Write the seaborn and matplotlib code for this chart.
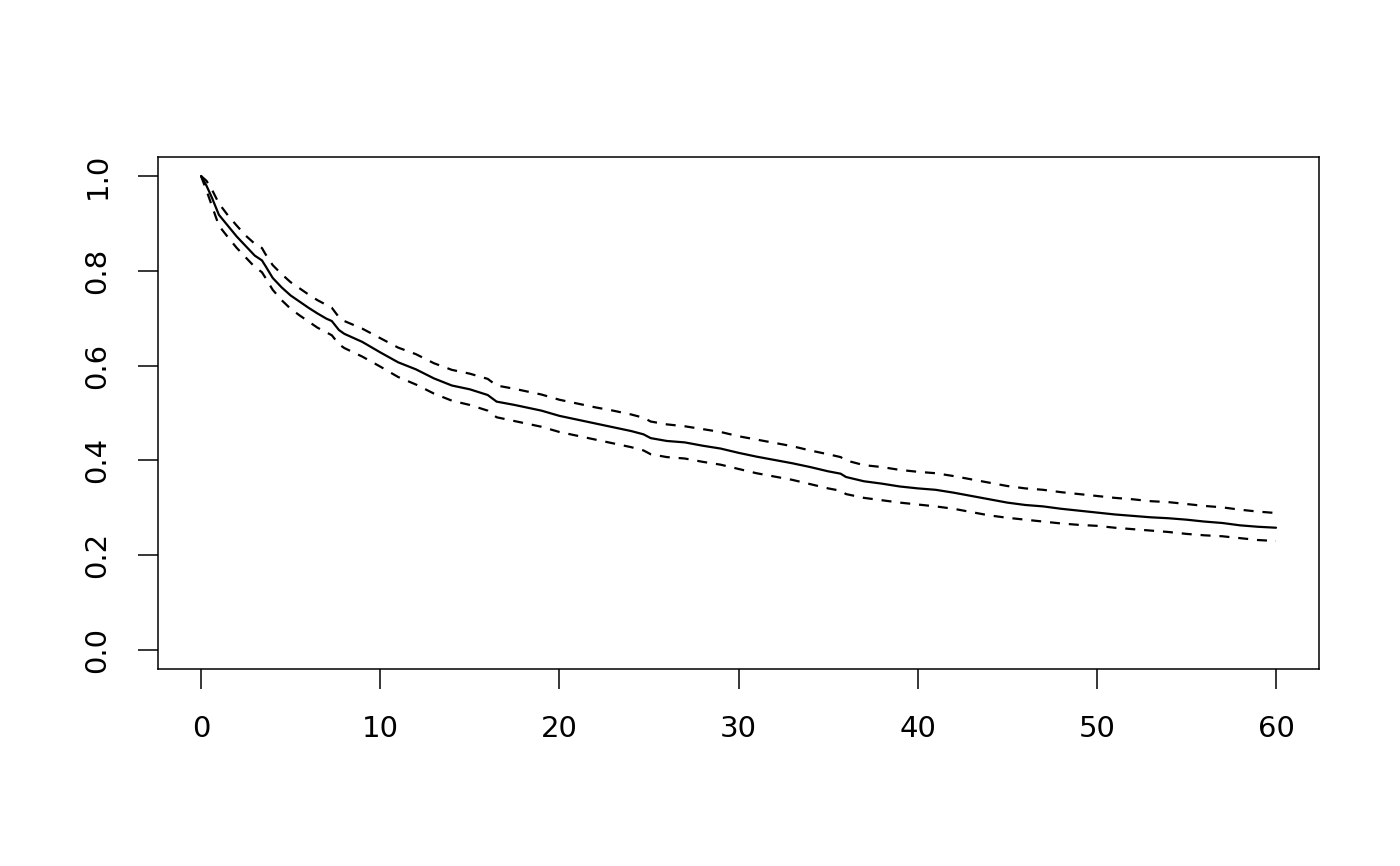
import matplotlib
matplotlib.use("Agg")
import matplotlib.pyplot as plt
import seaborn as sns
import pandas as pd

# Survival time (months) at readout points
time = [0, 0.3, 0.6, 1.0, 1.5, 2.0, 2.5, 3.0, 3.4, 3.6, 4.0, 4.5, 5.0, 5.5, 6.0, 6.5,
        7.0, 7.3, 7.7, 8.0, 9.0, 10.0, 11.0, 12.0, 13.0, 14.0, 15.0, 16.0, 16.5, 17.5,
        19.0, 20.0, 21.0, 22.0, 23.0, 24.0, 24.7, 25.1, 26.0, 27.0, 28.0, 29.0, 30.0,
        31.0, 32.0, 33.0, 34.0, 35.0, 35.7, 36.0, 37.0, 38.0, 39.0, 40.0, 41.0, 42.0,
        43.0, 44.0, 45.0, 46.0, 47.0, 48.0, 49.0, 50.0, 51.0, 52.0, 53.0, 54.0,
        55.0, 56.0, 57.0, 58.0, 59.0, 60.0]

surv = [1.0, 0.98, 0.955, 0.918, 0.895, 0.872, 0.852, 0.832, 0.822, 0.81, 0.785, 0.765,
        0.748, 0.735, 0.722, 0.71, 0.699, 0.694, 0.675, 0.667, 0.65, 0.628, 0.607,
        0.592, 0.573, 0.558, 0.55, 0.538, 0.524, 0.517, 0.505, 0.494, 0.486,
        0.478, 0.47, 0.462, 0.455, 0.447, 0.441, 0.438, 0.431, 0.425, 0.416, 0.408, 0.401,
        0.394, 0.386, 0.377, 0.372, 0.365, 0.356, 0.351, 0.345, 0.341, 0.338, 0.332,
        0.325, 0.318, 0.311, 0.306, 0.303, 0.298, 0.294, 0.29, 0.286, 0.283,
        0.28, 0.278, 0.275, 0.271, 0.268, 0.263, 0.26, 0.258]

upper = [1.0, 0.99, 0.972, 0.942, 0.917, 0.895, 0.874, 0.857, 0.848, 0.835, 0.812, 0.793,
         0.776, 0.763, 0.75, 0.738, 0.728, 0.722, 0.702, 0.694, 0.678, 0.658, 0.638,
         0.624, 0.605, 0.591, 0.583, 0.572, 0.558, 0.551, 0.539, 0.528, 0.52,
         0.512, 0.505, 0.497, 0.49, 0.482, 0.476, 0.472, 0.466, 0.46, 0.451, 0.444,
         0.437, 0.43, 0.421, 0.413, 0.407, 0.4, 0.39, 0.386, 0.38, 0.376, 0.373, 0.367,
         0.36, 0.353, 0.346, 0.341, 0.338, 0.333, 0.329, 0.325, 0.321, 0.318,
         0.314, 0.312, 0.308, 0.304, 0.301, 0.296, 0.292, 0.289]

lower = [1.0, 0.97, 0.938, 0.895, 0.871, 0.848, 0.828, 0.808, 0.797, 0.785, 0.76, 0.738,
         0.72, 0.706, 0.693, 0.68, 0.67, 0.664, 0.645, 0.637, 0.619, 0.598, 0.576,
         0.56, 0.541, 0.526, 0.517, 0.505, 0.491, 0.483, 0.471, 0.46, 0.452,
         0.444, 0.436, 0.428, 0.421, 0.413, 0.407, 0.404, 0.397, 0.391, 0.382, 0.373,
         0.366, 0.359, 0.35, 0.341, 0.336, 0.329, 0.321, 0.316, 0.311, 0.307, 0.303,
         0.298, 0.291, 0.284, 0.279, 0.275, 0.271, 0.267, 0.264, 0.262, 0.258,
         0.255, 0.252, 0.249, 0.245, 0.242, 0.24, 0.236, 0.232, 0.23]

x_ticks = [0, 10, 20, 30, 40, 50, 60]
y_ticks = [0.0, 0.2, 0.4, 0.6, 0.8, 1.0]
x_ticklabels = ["0", "10", "20", "30", "40", "50", "60"]
y_ticklabels = ["0.0", "0.2", "0.4", "0.6", "0.8", "1.0"]

sns.set_theme(style="white")
plt.rcParams["font.family"] = ["DejaVu Sans"]

df = pd.DataFrame({"time": time, "surv": surv, "upper": upper, "lower": lower})

fig = plt.figure(figsize=(14, 8.66), dpi=100)
ax = fig.add_axes([158 / 1400, 1 - 669 / 866, (1319 - 158) / 1400, (669 - 157) / 866])

sns.lineplot(data=df, x="time", y="surv", ax=ax, color="black", lw=1.6,
             estimator=None, sort=False)
for col in ["upper", "lower"]:
    sns.lineplot(data=df, x="time", y=col, ax=ax, color="black", lw=1.6,
                 estimator=None, sort=False, linestyle=(0, (4.5, 4)))

ax.set_xlim(-2.4, 62.4)
ax.set_ylim(-0.04, 1.04)
ax.set_xticks(x_ticks)
ax.set_xticklabels(x_ticklabels)
ax.set_yticks(y_ticks)
ax.set_yticklabels(y_ticklabels, rotation=90, va="center")
ax.set_xlabel("")
ax.set_ylabel("")
ax.grid(False)
for s in ax.spines.values():
    s.set_visible(True)
    s.set_color("black")
    s.set_linewidth(1.1)
ax.tick_params(axis="both", which="major", direction="out", length=14.4, width=1.1,
               color="black", labelsize=21, labelcolor="black", pad=19,
               bottom=True, left=True)
ax.set_facecolor("white")
fig.patch.set_facecolor("white")

fig.savefig("out.png", dpi=100, facecolor="white")
